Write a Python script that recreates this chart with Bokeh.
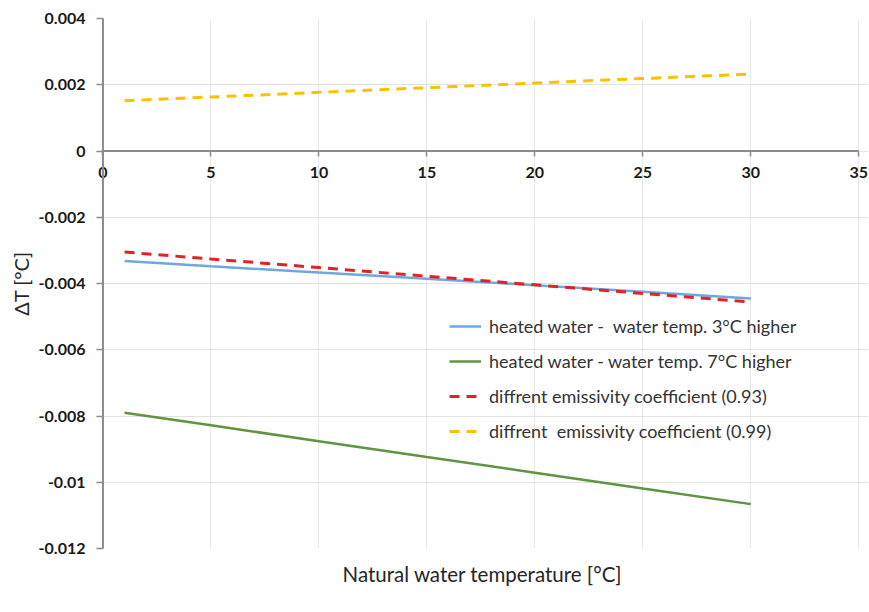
from bokeh.plotting import figure
from bokeh.models import (Range1d, FixedTicker, CustomJSTickFormatter, Legend, LegendItem, Title, Span)
from bokeh.embed import file_html
from bokeh.resources import INLINE

# Data
x_vals = [1, 5, 10, 15, 20, 25, 30]
heated_3 = [-0.00332, -0.00348, -0.00367, -0.00386, -0.00405, -0.00425, -0.00445]
heated_7 = [-0.00790, -0.00828, -0.00876, -0.00924, -0.00971, -0.01019, -0.01066]
emis_093 = [-0.00305, -0.00326, -0.00352, -0.00378, -0.00404, -0.00430, -0.00456]
emis_099 = [0.00152, 0.00163, 0.00177, 0.00191, 0.00205, 0.00219, 0.00232]

x_ticks = [0, 5, 10, 15, 20, 25, 30, 35]
y_ticks = [-0.012, -0.01, -0.008, -0.006, -0.004, -0.002, 0, 0.002, 0.004]

labels = ["heated water -  water temp. 3°C higher",
          "heated water - water temp. 7°C higher",
          "diffrent emissivity coefficient (0.93)",
          "diffrent  emissivity coefficient (0.99)"]

FONT = "Lato"
AXIS_COLOR = "#8c8c8c"

p = figure(width=868, height=610, output_backend="svg", toolbar_location=None,
           x_range=Range1d(-0.3, 35.45), y_range=Range1d(-0.012, 0.004),
           min_border_left=96, min_border_right=0, min_border_top=18, min_border_bottom=62)
p.outline_line_color = None
p.background_fill_color = "white"
p.border_fill_color = "white"

# x axis crossing at y = 0
xa = p.xaxis[0]
xa.fixed_location = 0
xa.ticker = FixedTicker(ticks=x_ticks)
xa.axis_line_color = None
xa.major_tick_line_color = AXIS_COLOR
xa.major_tick_line_width = 1.5
xa.major_tick_out = 5
xa.major_tick_in = 0
xa.minor_tick_line_color = None
xa.major_label_text_font = FONT
xa.major_label_text_font_style = "bold"
xa.major_label_text_font_size = "16px"
xa.major_label_text_color = "#1a1a1a"
xa.major_label_standoff = 11

ya = p.yaxis[0]
ya.ticker = FixedTicker(ticks=y_ticks)
ya.formatter = CustomJSTickFormatter(code="""
    let s = tick.toFixed(3);
    s = s.replace(/0+$/, '');
    s = s.replace(/\\.$/, '');
    if (s === '-0') s = '0';
    return s;
""")
ya.axis_line_color = None
ya.major_tick_line_color = AXIS_COLOR
ya.major_tick_line_width = 1.5
ya.major_tick_out = 0
ya.major_tick_in = 7
ya.minor_tick_line_color = None
ya.major_label_text_font = FONT
ya.major_label_text_font_style = "bold"
ya.major_label_text_font_size = "16px"
ya.major_label_text_color = "#1a1a1a"
ya.major_label_standoff = 11
ya.axis_label = "ΔT [°C]"
ya.axis_label_text_font = FONT
ya.axis_label_text_font_style = "normal"
ya.axis_label_text_font_size = "20px"
ya.axis_label_text_color = "#262626"
ya.axis_label_standoff = 3

p.xgrid.ticker = FixedTicker(ticks=x_ticks)
p.ygrid.ticker = FixedTicker(ticks=y_ticks)
p.xgrid.grid_line_color = "#e8e8e8"
p.ygrid.grid_line_color = "#e2e2e2"
p.xgrid.grid_line_width = 1
p.ygrid.grid_line_width = 1

# axis lines
p.add_layout(Span(location=0, dimension="height", line_color=AXIS_COLOR, line_width=2))
p.line([x_ticks[0], x_ticks[-1]], [0, 0], line_color=AXIS_COLOR, line_width=2)

xt = Title(text="Natural water temperature [°C]", align="center",
           text_font=FONT, text_font_style="normal", text_font_size="20.5px",
           text_color="#262626", standoff=22, offset=0)
p.add_layout(xt, "below")

r1 = p.line(x_vals, heated_3, line_color="#6fa8dc", line_width=2.5)
r2 = p.line(x_vals, heated_7, line_color="#5e9442", line_width=2.5)
r3 = p.line(x_vals, emis_093, line_color="#e02424", line_width=3, line_dash="10 7")
r4 = p.line(x_vals, emis_099, line_color="#ffc000", line_width=3, line_dash="10 7")

legend = Legend(items=[LegendItem(label=labels[0], renderers=[r1]),
                       LegendItem(label=labels[1], renderers=[r2]),
                       LegendItem(label=labels[2], renderers=[r3]),
                       LegendItem(label=labels[3], renderers=[r4])],
                location=(353, 106), background_fill_alpha=0, border_line_color=None,
                label_text_font=FONT, label_text_font_size="18px", label_text_color="#333333",
                glyph_width=32, glyph_height=20, label_height=20, spacing=13, label_standoff=8)
p.add_layout(legend, "center")

open("out.html", "w").write(file_html(p, INLINE))
